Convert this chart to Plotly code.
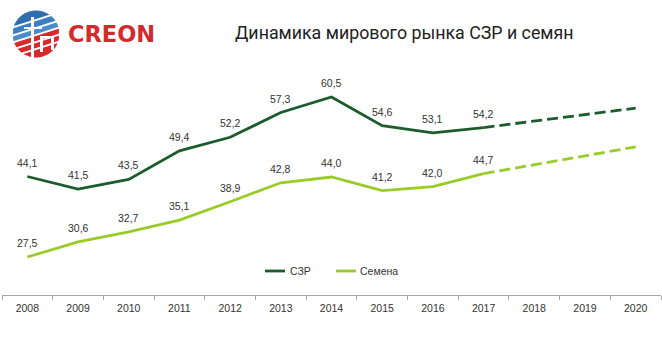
import numpy as np
import plotly.graph_objects as go

# ---- data ----
years = ["2008", "2009", "2010", "2011", "2012", "2013", "2014",
         "2015", "2016", "2017", "2018", "2019", "2020"]
szr_fact = [44.1, 41.5, 43.5, 49.4, 52.2, 57.3, 60.5, 54.6, 53.1, 54.2]
seeds_fact = [27.5, 30.6, 32.7, 35.1, 38.9, 42.8, 44.0, 41.2, 42.0, 44.7]
# forecast continues from the last actual year (2017) to 2020
szr_forecast = [54.2, 55.5, 56.9, 58.2]
seeds_forecast = [44.7, 46.5, 48.4, 50.2]
series_names = ["СЗР", "Семена"]
title_text = "Динамика мирового рынка СЗР и семян"
brand = "CREON"

DARK = "#1c5c2c"
LIGHT = "#99cc29"
TEXT = "#333333"

W, H = 662, 341
ML, MR, MT, MB = 2, 1, 60, 46
PW, PH = W - ML - MR, H - MT - MB


def px(x):
    return (x - ML) / PW


def py(y):
    return (H - MB - y) / PH


fig = go.Figure()

n_fact = len(szr_fact)
fc_x = years[n_fact - 1:]

for vals, fc, color in [(szr_fact, szr_forecast, DARK), (seeds_fact, seeds_forecast, LIGHT)]:
    fig.add_trace(go.Scatter(x=years[:n_fact], y=vals, mode="lines",
                             line=dict(color=color, width=2.8), showlegend=False,
                             hoverinfo="skip"))
    fig.add_trace(go.Scatter(x=fc_x, y=fc, mode="lines",
                             line=dict(color=color, width=2.8, dash="11px,5px"),
                             showlegend=False, hoverinfo="skip"))

annotations = []
# value labels above the actual points (category index positions)
for vals in (szr_fact, seeds_fact):
    for i, v in enumerate(vals):
        annotations.append(dict(x=i, y=v, xref="x", yref="y",
                                text=f"{v:.1f}".replace(".", ","), showarrow=False,
                                yshift=14, font=dict(family="Liberation Sans", size=10.5, color=TEXT)))

# title
annotations.append(dict(x=px(404), y=py(32), xref="paper", yref="paper", text=title_text,
                        showarrow=False, xanchor="center", yanchor="middle",
                        font=dict(family="Roboto", size=17.8, color="#222222")))
# brand name
annotations.append(dict(x=px(66), y=py(34), xref="paper", yref="paper", text=f"<b>{brand}</b>",
                        showarrow=False, xanchor="left", yanchor="middle",
                        font=dict(family="DejaVu Sans", size=22.5, color="#d42a2c")))

shapes = []

# legend drawn as short line samples with text
legend_items = [(265, 285, 288, DARK, series_names[0]), (336, 356, 358, LIGHT, series_names[1])]
for x0, x1, tx, color, name in legend_items:
    shapes.append(dict(type="line", xref="paper", yref="paper", x0=px(x0), x1=px(x1),
                       y0=py(271), y1=py(271), line=dict(color=color, width=2.8)))
    annotations.append(dict(x=px(tx), y=py(271), xref="paper", yref="paper", text=name,
                            showarrow=False, xanchor="left", yanchor="middle",
                            font=dict(family="Liberation Sans", size=10.5, color=TEXT)))


# logo: striped globe
def band_path(cx, cy, r, k, c1, c2):
    top, bot = [], []
    for dx in np.linspace(-r, r, 80):
        h = np.sqrt(max(r * r - dx * dx, 0))
        lo = max(-h, c1 - k * dx)
        hi = min(h, c2 - k * dx)
        if hi > lo:
            top.append((cx + dx, cy + lo))
            bot.append((cx + dx, cy + hi))
    if len(top) < 2:
        return None
    pts = top + bot[::-1]
    return "M " + " L ".join(f"{px(a):.5f},{py(b):.5f}" for a, b in pts) + " Z"


cx, cy, r, k = 36, 34, 23.5, 0.32
bands = [(-30, -15, "#2f6fb0"), (-13, -7, "#3a7fc0"), (-5, 0, "#4a8ccb"),
         (2, 7, "#d8282c"), (9, 14, "#d8282c"), (16, 30, "#d8282c")]
for c1, c2, color in bands:
    p = band_path(cx, cy, r, k, c1, c2)
    if p:
        shapes.append(dict(type="path", xref="paper", yref="paper", path=p,
                           fillcolor=color, line=dict(width=0)))
# white letter strokes over the globe
for x0, y0, x1, y1 in [(31, 17, 34, 59), (24, 27, 42, 29), (40, 36, 43, 52), (40, 36, 54, 38), (51, 36, 54, 50)]:
    shapes.append(dict(type="rect", xref="paper", yref="paper", x0=px(x0), x1=px(x1),
                       y0=py(y1), y1=py(y0), fillcolor="white", line=dict(width=0)))

fig.update_layout(
    width=W, height=H,
    margin=dict(l=ML, r=MR, t=MT, b=MB),
    paper_bgcolor="white", plot_bgcolor="white",
    xaxis=dict(type="category", categoryorder="array", categoryarray=years,
               range=[-0.5, len(years) - 0.5], tickson="boundaries",
               ticks="outside", ticklen=4, tickcolor="#a6a6a6",
               showline=True, linecolor="#a6a6a6", linewidth=1,
               showgrid=False, zeroline=False, ticklabelstandoff=3,
               tickfont=dict(family="Liberation Sans", size=10.5, color=TEXT)),
    yaxis=dict(visible=False, range=[19.66, 68.13]),
    annotations=annotations, shapes=shapes,
)

fig.write_html("out.html")
